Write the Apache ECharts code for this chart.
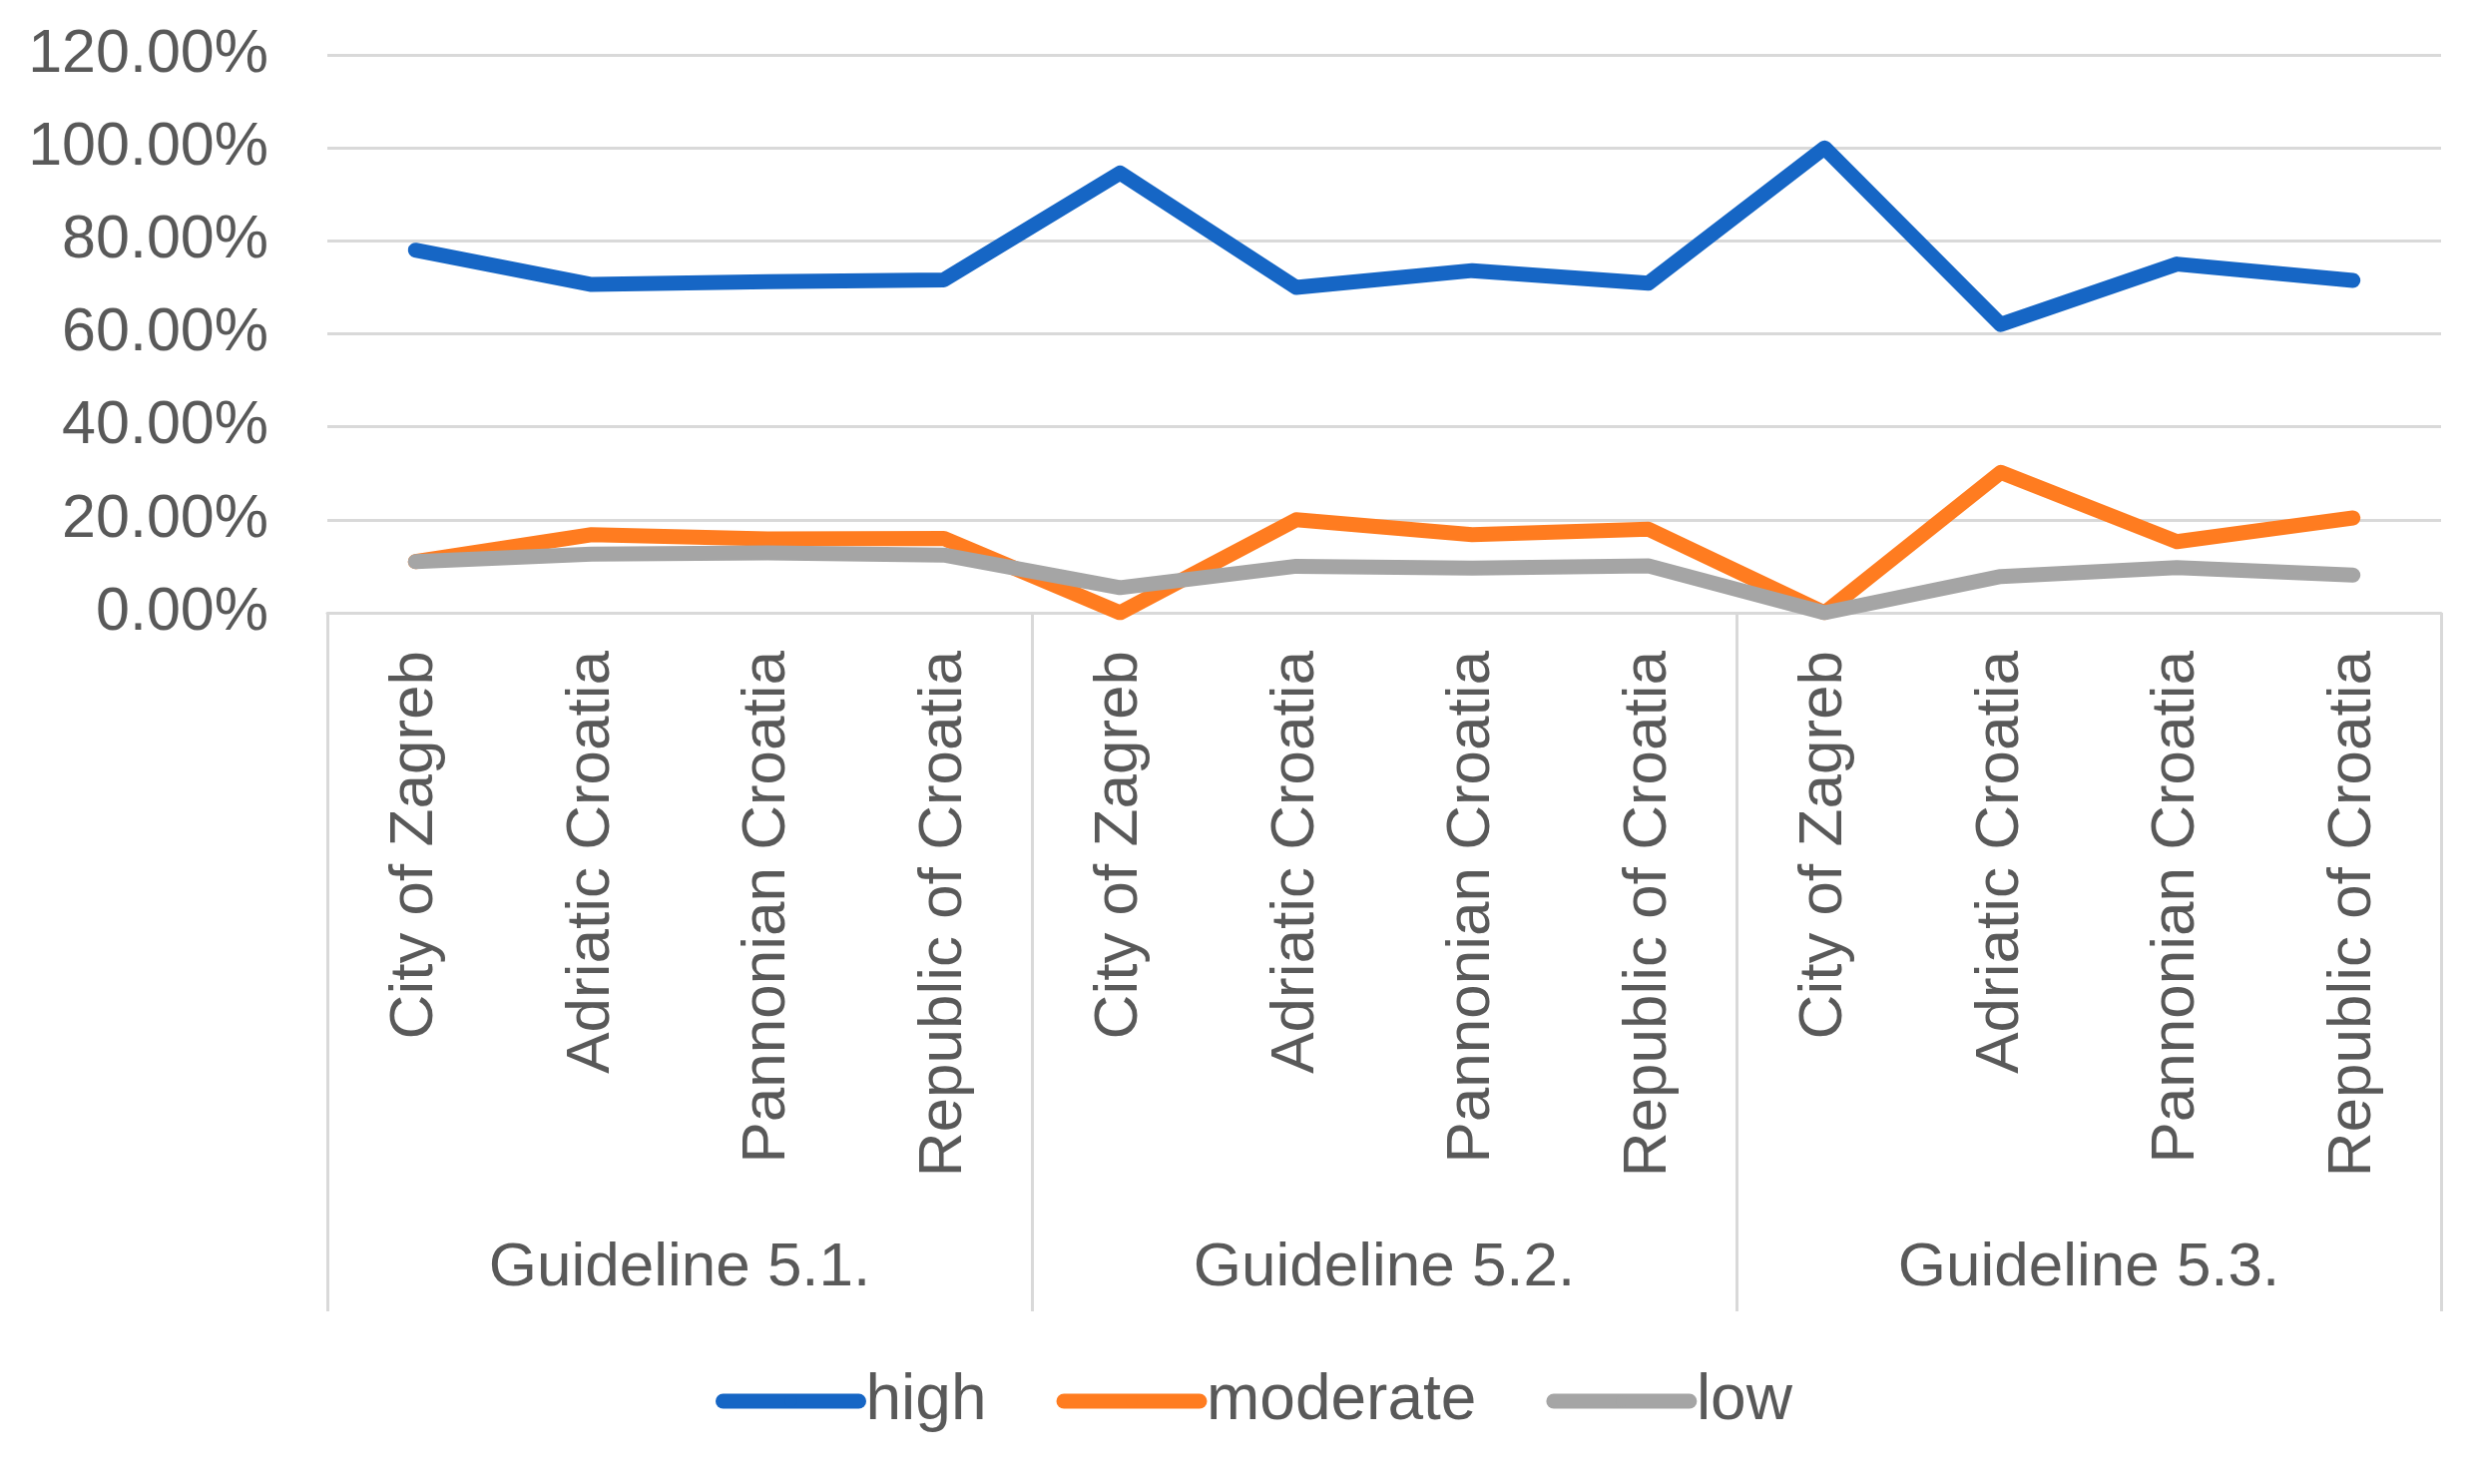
<!DOCTYPE html>
<html>
<head>
<meta charset="utf-8">
<title>Guidelines 5.1 - 5.3</title>
<script src="https://cdn.jsdelivr.net/npm/echarts@6/dist/echarts.min.js"></script>
<style>
    html, body { margin: 0; padding: 0; background: #fff; }
    #chart { width: 2477px; height: 1487px; }
</style>
</head>
<body>
<div id="chart"></div>
<script>
// 数据
const regions = ['City of Zagreb', 'Adriatic Croatia', 'Pannonian Croatia', 'Republic of Croatia',
                 'City of Zagreb', 'Adriatic Croatia', 'Pannonian Croatia', 'Republic of Croatia',
                 'City of Zagreb', 'Adriatic Croatia', 'Pannonian Croatia', 'Republic of Croatia'];
const guidelines = ['Guideline 5.1.', 'Guideline 5.2.', 'Guideline 5.3.'];
const high = [78.0, 70.6, 71.2, 71.6, 94.6, 70.0, 73.6, 70.9, 100.0, 62.0, 75.0, 71.5];
const moderate = [11.0, 16.8, 15.9, 16.0, 0.0, 20.0, 16.8, 18.0, 0.0, 30.2, 15.3, 20.4];
const low = [11.0, 12.6, 12.9, 12.4, 5.4, 10.0, 9.6, 10.1, 0.0, 7.8, 9.7, 8.1];
const yTicks = [0, 20, 40, 60, 80, 100, 120];

const textColor = '#595959';
const gridColor = '#D9D9D9';
const font = '"Liberation Sans", Arial, sans-serif';

function lineSeries(name, data, color) {
    return {
        name: name,
        type: 'line',
        data: data,
        symbol: 'none',
        color: color,
        lineStyle: { width: 15, color: color, cap: 'round', join: 'round' }
    };
}

setOption('chart', {
    animation: false,
    textStyle: { fontFamily: font },
    grid: { left: 328, right: 31, top: 55, bottom: 873 },
    legend: {
        left: 712,
        top: 1367,
        itemWidth: 136,
        itemHeight: 15,
        itemGap: 70,
        lineStyle: { width: 15, cap: 'round' },
        textStyle: { color: textColor, fontSize: 64, fontFamily: font, padding: [0, 0, 0, 2] },
        data: ['high', 'moderate', 'low']
    },
    xAxis: [
        {
            type: 'category',
            data: regions,
            boundaryGap: true,
            axisLine: { show: true, lineStyle: { color: gridColor, width: 3 } },
            axisTick: { show: false },
            axisLabel: {
                interval: 0,
                rotate: 90,
                margin: 38,
                color: textColor,
                fontSize: 62,
                fontFamily: font
            }
        },
        {
            type: 'category',
            data: guidelines,
            position: 'bottom',
            boundaryGap: true,
            axisLine: { show: false },
            axisTick: {
                show: true,
                interval: 0,
                length: 700,
                lineStyle: { color: gridColor, width: 3 }
            },
            axisLabel: {
                interval: 0,
                margin: 626,
                color: textColor,
                fontSize: 62,
                fontFamily: font
            }
        }
    ],
    yAxis: {
        type: 'value',
        min: yTicks[0],
        max: yTicks[yTicks.length - 1],
        interval: 20,
        axisLine: { show: false },
        axisTick: { show: false },
        splitLine: { lineStyle: { color: gridColor, width: 3 } },
        axisLabel: {
            margin: 59,
            color: textColor,
            fontSize: 61,
            fontFamily: font,
            formatter: function (v) { return v.toFixed(2) + '%'; }
        }
    },
    series: [
        lineSeries('high', high, '#1666C5'),
        lineSeries('moderate', moderate, '#FF7C20'),
        lineSeries('low', low, '#A5A5A5')
    ]
});

function setOption(ident, opt) {
    // 初始化echarts实例并设置配置项
    let myChart = echarts.init(document.getElementById(ident));
    myChart.setOption(opt);
}
</script>
</body>
</html>
